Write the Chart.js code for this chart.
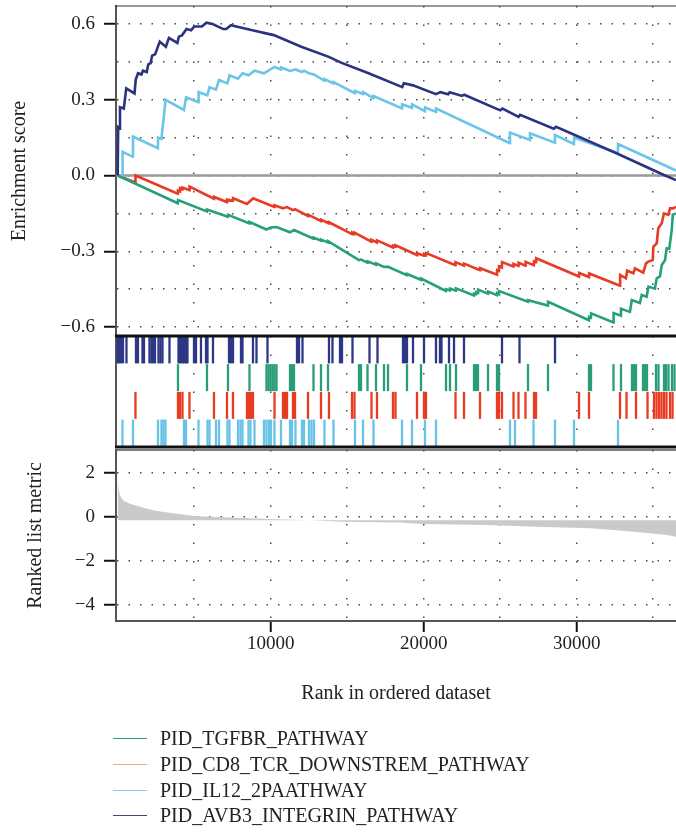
<!DOCTYPE html>
<html>
<head>
<meta charset="utf-8">
<title>GSEA enrichment plot</title>
<script src="https://cdn.jsdelivr.net/npm/chart.js@4/dist/chart.umd.min.js"></script>
<style>
  html, body { margin: 0; padding: 0; background: #fff; }
  #wrap { position: relative; width: 676px; height: 833px; background: #fff; font-family: "Liberation Serif", "Times New Roman", serif; overflow: hidden; }
  #wrap canvas { position: absolute; left: 0; }
  #legend { position: absolute; left: 0; top: 725px; width: 676px; height: 108px; }
  .leg-row { position: absolute; left: 0; height: 26px; display: flex; align-items: center; font-size: 20px; color: #222; white-space: nowrap; }
  .leg-line { display: inline-block; width: 34px; margin-left: 113px; margin-right: 13px; border-top: 1.5px solid; }
</style>
</head>
<body>
<div id="wrap">
  <canvas id="esChart" width="676" height="336" style="top:0px"></canvas>
  <canvas id="hitChart" width="676" height="116" style="top:334px"></canvas>
  <canvas id="metricChart" width="676" height="268" style="top:447px"></canvas>
  <div id="legend"></div>
</div>
<script>
// ---- data ----
const RANK_MIN = -110;
const RANK_MAX = 36490;

const pathways = [
    'PID_TGFBR_PATHWAY',
    'PID_CD8_TCR_DOWNSTREM_PATHWAY',
    'PID_IL12_2PAATHWAY',
    'PID_AVB3_INTEGRIN_PATHWAY'
];

// running enrichment score, [rank, ES]
const tgfbrEs = [[0,0],[3930,-0.11],[3945,-0.097],[5830,-0.142],[5840,-0.135],[7200,-0.163],[7215,-0.156],[8610,-0.19],[8620,-0.184],
    [9720,-0.214],[9990,-0.206],[10380,-0.204],[11260,-0.225],[11530,-0.216],[12800,-0.25],[12810,-0.246],[13290,-0.258],[13300,-0.254],
    [13740,-0.265],[13750,-0.26],[15770,-0.335],[15910,-0.333],[16330,-0.345],[16340,-0.34],[16880,-0.353],[16890,-0.348],[17400,-0.362],
    [17670,-0.362],[18910,-0.395],[18920,-0.39],[19820,-0.413],[19830,-0.408],[21450,-0.457],[21460,-0.45],[21710,-0.455],[21720,-0.448],
    [22100,-0.456],[22110,-0.447],[23280,-0.475],[23290,-0.468],[23420,-0.47],[23430,-0.462],[23550,-0.465],[23560,-0.452],[24200,-0.468],
    [24210,-0.46],[24790,-0.474],[24800,-0.466],[24920,-0.47],[24930,-0.458],[26810,-0.5],[26820,-0.494],[28120,-0.515],[28130,-0.5],
    [30800,-0.573],[30810,-0.56],[30930,-0.563],[30940,-0.546],[32400,-0.582],[32410,-0.545],[32890,-0.555],[32900,-0.528],[33480,-0.54],
    [33600,-0.493],[34130,-0.505],[34250,-0.473],[34570,-0.48],[34690,-0.44],[35110,-0.448],[35230,-0.407],[35440,-0.4],[35560,-0.354],
    [35770,-0.336],[35880,-0.288],[36050,-0.29],[36210,-0.216],[36280,-0.156],[36490,-0.15]];

const cd8Es = [[0,0],[1160,-0.028],[1165,0],[3930,-0.072],[3940,-0.06],[4070,-0.063],[4080,-0.05],[4230,-0.055],[4240,-0.048],[4690,-0.058],
    [4700,-0.044],[6290,-0.092],[6300,-0.085],[7140,-0.105],[7150,-0.095],[7530,-0.1],[7540,-0.09],[8450,-0.113],[8850,-0.09],[10240,-0.125],
    [10250,-0.118],[10800,-0.13],[11070,-0.125],[11450,-0.137],[11590,-0.133],[12430,-0.16],[12440,-0.155],[13280,-0.18],[13290,-0.175],
    [13800,-0.19],[13810,-0.185],[15310,-0.232],[15320,-0.226],[15470,-0.232],[15480,-0.226],[16580,-0.262],[16590,-0.255],[16940,-0.265],
    [16950,-0.257],[17990,-0.285],[18000,-0.278],[18150,-0.282],[18160,-0.276],[19560,-0.315],[19570,-0.308],[20020,-0.318],[20030,-0.311],
    [20150,-0.315],[20160,-0.307],[22070,-0.355],[22080,-0.343],[22630,-0.357],[22640,-0.349],[23680,-0.375],[23690,-0.367],[24790,-0.393],
    [24800,-0.375],[24920,-0.378],[24930,-0.36],[25110,-0.364],[25120,-0.343],[25860,-0.36],[25870,-0.35],[26190,-0.358],[26200,-0.345],
    [26650,-0.357],[26660,-0.342],[27200,-0.355],[27210,-0.34],[27340,-0.343],[27350,-0.328],[30150,-0.4],[30160,-0.386],[30800,-0.402],
    [30810,-0.388],[32830,-0.436],[32840,-0.394],[33220,-0.407],[33300,-0.377],[33700,-0.387],[33810,-0.368],[34350,-0.385],[34530,-0.348],
    [34680,-0.341],[34970,-0.335],[35010,-0.282],[35230,-0.269],[35330,-0.209],[35560,-0.189],[35700,-0.15],[35990,-0.156],[36100,-0.13],
    [36310,-0.13],[36490,-0.124]];

const il12Es = [[0,0],[310,-0.007],[320,0.094],[990,0.074],[1000,0.154],[2630,0.108],[2640,0.15],[2860,0.145],[3130,0.3],[4330,0.26],
    [4470,0.31],[5280,0.29],[5290,0.33],[5860,0.318],[6000,0.35],[6420,0.34],[6620,0.378],[7170,0.365],[7310,0.397],[7860,0.383],
    [8160,0.405],[8550,0.397],[8940,0.415],[9560,0.405],[10250,0.43],[10670,0.42],[10680,0.428],[11260,0.414],[11620,0.42],[12040,0.41],
    [12180,0.415],[12500,0.405],[12830,0.4],[13510,0.375],[13520,0.382],[14100,0.365],[14110,0.37],[15500,0.326],[15510,0.335],
    [16030,0.323],[16040,0.33],[16710,0.306],[16720,0.315],[18580,0.266],[18590,0.282],[19230,0.268],[19240,0.282],[20080,0.255],
    [20090,0.27],[20800,0.252],[20810,0.265],[25630,0.128],[25640,0.17],[26940,0.141],[26950,0.167],[28570,0.13],[28580,0.16],
    [29820,0.125],[29830,0.15],[32690,0.088],[32700,0.125],[36490,0.02]];

const avb3Es = [[0,0],[30,0.19],[120,0.185],[150,0.27],[400,0.265],[560,0.345],[1100,0.325],[1180,0.38],[1330,0.405],[1550,0.4],
    [1650,0.415],[1900,0.41],[2000,0.44],[2150,0.445],[2250,0.475],[2450,0.48],[2750,0.53],[3150,0.51],[3350,0.545],[3900,0.525],
    [4000,0.55],[4200,0.555],[4500,0.58],[4800,0.575],[5000,0.59],[5500,0.59],[5800,0.605],[6200,0.6],[6900,0.58],[7100,0.58],
    [7400,0.595],[8100,0.585],[8800,0.575],[10200,0.556],[12000,0.51],[13800,0.47],[14600,0.447],[16400,0.405],[18600,0.35],
    [18700,0.365],[19300,0.357],[20800,0.322],[21100,0.33],[21600,0.322],[21700,0.33],[22500,0.315],[22650,0.32],[25000,0.258],
    [25150,0.265],[26200,0.232],[26300,0.24],[28500,0.185],[28650,0.193],[32600,0.088],[35700,0.002],[36490,-0.018]];

// gene-set member positions in the ranked list
const tgfbrHits = [3941,5837,7209,8614,9725,9856,9987,10118,10249,10379,11262,11392,11523,12798,13288,13745,15771,15902,16327,16883,
    17405,17667,18909,19824,21458,21719,22111,23288,23419,23549,24203,24791,24922,26817,28124,30804,30935,32405,32896,33615,33746,
    33876,34334,34464,34595,35183,35347,35706,35837,36000,36229,36392];
const cd8Hits = [1163,3941,4072,4235,4693,6294,7144,7536,8451,8582,8712,8843,10249,10804,10935,11066,11457,11588,12438,13288,13810,
    15314,15477,16589,16948,17994,18157,19562,20020,20150,22079,22634,23680,24791,24922,25118,25870,26196,26654,27209,27340,30150,
    30804,32830,33255,33876,34628,35052,35216,35379,35543,35706,35869,36098,36262];
const il12Hits = [314,1000,2634,2863,2993,3124,4333,4464,5281,5869,6000,6425,6621,7177,7307,7863,8026,8157,8549,8680,8941,9562,9725,
    9889,10020,10249,10673,11262,11392,11621,12046,12177,12503,12667,12830,13516,14104,15510,16033,16719,18582,19235,20085,20804,
    25641,25968,27177,28582,29824,32700];
const avb3Hits = [0,85,216,346,575,1196,1327,1621,1719,2078,2209,2307,2438,2667,2797,2928,3386,3974,4072,4170,4268,4366,4464,4562,
    4987,5118,5444,5771,5869,6229,7275,7405,7536,8059,8157,8843,9072,9791,11719,11850,12079,13810,14039,14530,14660,15347,16458,
    16981,18647,18778,18909,19301,20020,20804,21065,21163,21654,21981,22634,25118,26262,28582];

// ranked list metric, [rank, value]
const rankedMetric = [[0,1.8],[60,1.3],[150,0.98],[370,0.75],[800,0.6],[1670,0.42],[2550,0.27],[3860,0.15],[5160,0.03],[8200,-0.04],
    [10400,-0.1],[12570,-0.15],[14700,-0.22],[18450,-0.25],[19950,-0.32],[24100,-0.36],[27400,-0.44],[30870,-0.51],[33000,-0.62],
    [34800,-0.74],[35900,-0.82],[36490,-0.9]];
const METRIC_BASELINE = -0.15;

// ticks
const rankGridTicks = [5000, 10000, 15000, 20000, 25000, 30000, 35000];
const rankLabelTicks = [10000, 20000, 30000];
const esGridTicks = [-0.6, -0.45, -0.3, -0.15, 0, 0.15, 0.3, 0.45, 0.6];
const esLabelTicks = [-0.6, -0.3, 0, 0.3, 0.6];
const metricGridTicks = [-4, -3, -2, -1, 0, 1, 2, 3];
const metricLabelTicks = [-4, -2, 0, 2];

// ---- styling ----
const lineColors = ['#27a07a', '#e63b24', '#6cc5e9', '#2b3381'];
const hitColors = ['#2b9c79', '#e83c22', '#69c3e6', '#2d3786'];
const legendColors = ['#20a080', '#f2a58e', '#7ed3ec', '#3b4687'];
const FONT = 'Liberation Serif';
const GRID = '#4a4a4a';
const tickFont = { family: FONT, size: 19 };
const titleFont = { family: FONT, size: 20 };

const isLabel = (list, v) => v !== undefined && list.some(t => Math.abs(t - v) < 1e-9);
const minus = v => (v < 0 ? '\u2212' : '');
const toPoints = arr => arr.map(([x, y]) => ({ x: x, y: y }));

// axes keep a fixed size and never push the plot area in for their labels
function fixSize(s, size) {
    if (s.isHorizontal()) s.height = size; else s.width = size;
    s.paddingTop = 0;
    s.paddingBottom = 0;
    s.paddingLeft = 0;
    s.paddingRight = 0;
}

// plain lines along the top / bottom of a panel
const framePlugin = {
    id: 'frame',
    afterDraw(chart, args, opts) {
        const { ctx, chartArea: a } = chart;
        (opts.lines || []).forEach(l => {
            const y = l.side === 'top' ? a.top : a.bottom;
            ctx.save();
            ctx.strokeStyle = l.color;
            ctx.lineWidth = l.width;
            ctx.beginPath();
            ctx.moveTo(a.left - 1, y);
            ctx.lineTo(a.right, y);
            ctx.stroke();
            ctx.restore();
        });
    }
};

function baseOptions(padding, lines) {
    return {
        responsive: false,
        animation: false,
        devicePixelRatio: 1,
        events: [],
        layout: { padding: padding, autoPadding: false },
        plugins: {
            legend: { display: false },
            tooltip: { enabled: false },
            frame: { lines: lines }
        }
    };
}

function rankAxis(withLabels) {
    return {
        type: 'linear',
        min: RANK_MIN,
        max: RANK_MAX,
        afterBuildTicks: s => { s.ticks = rankGridTicks.map(v => ({ value: v })); },
        afterFit: s => fixSize(s, withLabels ? 94 : 0),
        grid: {
            color: GRID,
            lineWidth: 1.5,
            drawTicks: withLabels,
            tickLength: 11,
            tickWidth: 2,
            tickColor: c => isLabel(rankLabelTicks, c.tick && c.tick.value) ? '#111' : 'rgba(0,0,0,0)',
            borderDash: [1.5, 17]
        },
        border: { display: withLabels, color: '#555', width: 2, dash: [1.5, 17] },
        ticks: {
            display: withLabels,
            autoSkip: false,
            maxRotation: 0,
            padding: 1,
            font: tickFont,
            color: '#222',
            callback: v => isLabel(rankLabelTicks, v) ? String(v) : ''
        },
        title: {
            display: withLabels,
            text: 'Rank in ordered dataset',
            font: titleFont,
            color: '#222',
            padding: { top: 0, bottom: 9 }
        }
    };
}

// ---- enrichment score panel ----
const esSeries = [avb3Es, tgfbrEs, il12Es, cd8Es];
const esColorIdx = [3, 0, 2, 1];
const esDatasets = esSeries.map((s, i) => ({
    data: toPoints(s),
    borderColor: lineColors[esColorIdx[i]],
    borderWidth: 2.6,
    pointRadius: 0,
    tension: 0,
    fill: false
}));
esDatasets.push({
    data: [{ x: RANK_MIN, y: 0 }, { x: RANK_MAX, y: 0 }],
    borderColor: '#9a9a9a',
    borderWidth: 2.6,
    pointRadius: 0
});

const esOptions = baseOptions({ top: 6, left: 0, right: 0, bottom: 0 }, [{ side: 'top', width: 1, color: '#333' }]);
esOptions.scales = {
    x: rankAxis(false),
    y: {
        min: -0.6356,
        max: 0.6713,
        afterBuildTicks: s => { s.ticks = esGridTicks.map(v => ({ value: v })); },
        afterFit: s => fixSize(s, 116),
        grid: {
            color: GRID,
            lineWidth: 1.5,
            tickLength: 12,
            tickWidth: 2,
            tickColor: c => isLabel(esLabelTicks, c.tick && c.tick.value) ? '#111' : 'rgba(0,0,0,0)',
            borderDash: [1.5, 10]
        },
        border: { color: '#555', width: 2, dash: [1.5, 10] },
        ticks: {
            padding: 9,
            font: tickFont,
            color: '#222',
            callback: v => isLabel(esLabelTicks, v) ? minus(v) + Math.abs(v).toFixed(1) : ''
        },
        title: { display: true, text: 'Enrichment score', font: titleFont, color: '#222', padding: { top: 8, bottom: 0 } }
    }
};

new Chart(document.getElementById('esChart'), {
    type: 'line',
    data: { datasets: esDatasets },
    options: esOptions,
    plugins: [framePlugin]
});

// ---- hit ticks panel ----
const hitSeries = [avb3Hits, tgfbrHits, cd8Hits, il12Hits];
const hitColorIdx = [3, 0, 1, 2];
const hitDatasets = hitSeries.map((hits, i) => ({
    data: hits.map(r => ({ x: r, y: 3.5 - i })),
    showLine: false,
    pointStyle: 'line',
    pointRotation: 90,
    pointRadius: 13.5,
    pointHoverRadius: 13.5,
    pointBorderWidth: 2.3,
    pointBorderColor: hitColors[hitColorIdx[i]],
    pointBackgroundColor: hitColors[hitColorIdx[i]]
}));

const hitOptions = baseOptions({ top: 2, left: 0, right: 0, bottom: 3 }, [
    { side: 'top', width: 3, color: '#111' },
    { side: 'bottom', width: 3, color: '#111' }
]);
hitOptions.scales = {
    x: rankAxis(false),
    y: {
        min: 0,
        max: 4,
        afterFit: s => fixSize(s, 116),
        grid: { display: false },
        border: { color: '#555', width: 2 },
        ticks: { display: false }
    }
};

new Chart(document.getElementById('hitChart'), {
    type: 'scatter',
    data: { datasets: hitDatasets },
    options: hitOptions,
    plugins: [framePlugin]
});

// ---- ranked list metric panel ----
const metricOptions = baseOptions({ top: 3, left: 0, right: 0, bottom: 0 }, [{ side: 'top', width: 1.5, color: '#555' }]);
metricOptions.scales = {
    x: rankAxis(true),
    y: {
        min: -4.727,
        max: 3.045,
        afterBuildTicks: s => { s.ticks = metricGridTicks.map(v => ({ value: v })); },
        afterFit: s => fixSize(s, 116),
        grid: {
            color: GRID,
            lineWidth: 1.5,
            tickLength: 12,
            tickWidth: 2,
            tickColor: c => isLabel(metricLabelTicks, c.tick && c.tick.value) ? '#111' : 'rgba(0,0,0,0)',
            borderDash: [1.5, 10]
        },
        border: { color: '#555', width: 2, dash: [1.5, 10] },
        ticks: {
            padding: 9,
            font: tickFont,
            color: '#222',
            callback: v => isLabel(metricLabelTicks, v) ? minus(v) + Math.abs(v) : ''
        },
        title: { display: true, text: 'Ranked list metric', font: titleFont, color: '#222', padding: { top: 24, bottom: 0 } }
    }
};

new Chart(document.getElementById('metricChart'), {
    type: 'line',
    data: {
        datasets: [{
            data: toPoints(rankedMetric),
            fill: { value: METRIC_BASELINE },
            backgroundColor: '#cbc9c9',
            borderColor: 'rgba(0,0,0,0)',
            borderWidth: 0,
            pointRadius: 0,
            tension: 0
        }]
    },
    options: metricOptions,
    plugins: [framePlugin]
});

// ---- legend ----
const legend = document.getElementById('legend');
const rowTops = [0, 26, 52, 77];
pathways.forEach((name, i) => {
    const row = document.createElement('div');
    row.className = 'leg-row';
    row.style.top = rowTops[i] + 'px';
    row.innerHTML = `<span class="leg-line" style="border-top-color:${legendColors[i]}"></span><span>${name}</span>`;
    legend.appendChild(row);
});
</script>
</body>
</html>
